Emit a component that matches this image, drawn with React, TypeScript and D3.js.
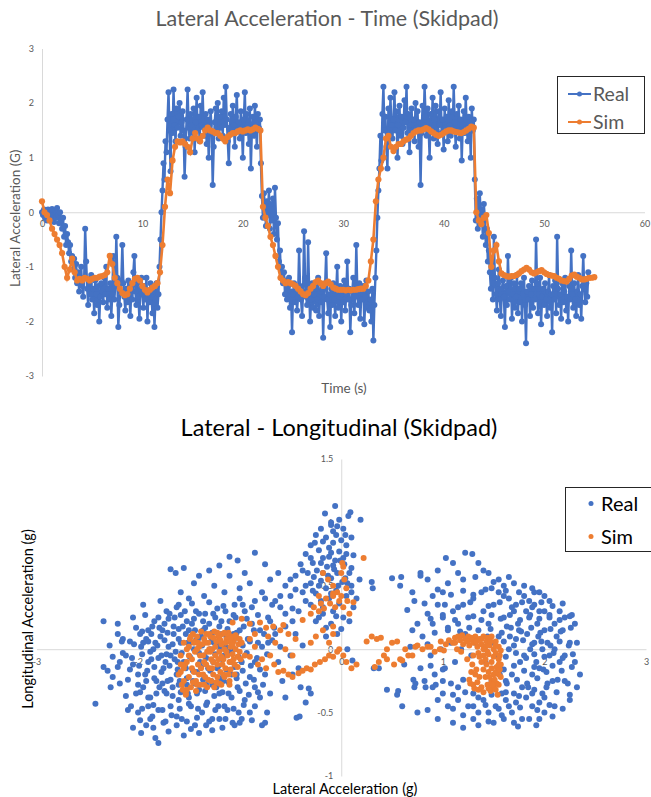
import { useEffect, useRef } from 'react'
import * as d3 from 'd3'

// ---- Lateral acceleration vs time (logged at 10 Hz) ----
const realStep = 0.1 // s between logged samples
const realLat = [
  // 0-4 s : straight, turn-in
  0.0, -0.05, 0.05, -0.1, 0.02, -0.15, 0.05, -0.08, 0.0, -0.12,
  0.06, -0.05, -0.18, 0.03, -0.1, 0.08, -0.05, -0.2, 0.0, -0.15,
  -0.3, -0.1, -0.45, -0.25, -0.6, -0.4, -0.55, -0.75, -0.6, -0.9,
  -0.8, -1.05, -0.85, -1.2, -0.95, -1.3, -1.1, -1.45, -1.2, -1.0,
  // 4-12 s : first left circle
  -1.35, -1.55, -1.2, -0.3, -0.9, -1.4, -1.7, -1.3, -1.5, -1.15,
  -1.6, -1.4, -1.85, -1.25, -1.5, -1.7, -1.35, -2.0, -1.55, -1.3,
  -1.45, -1.65, -1.2, -1.5, -1.0, -1.75, -1.4, -1.6, -1.3, -1.9,
  -1.5, -0.8, -1.6, -1.35, -0.45, -1.2, -2.1, -1.7, -1.45, -1.25,
  -0.6, -1.3, -1.55, -1.8, -1.4, -1.65, -1.25, -1.5, -1.9, -1.35,
  -1.6, -1.1, -0.8, -1.45, -1.7, -1.3, -1.55, -1.95, -1.4, -1.2,
  -1.5, -1.75, -1.35, -1.6, -1.2, -2.0, -1.45, -1.65, -1.3, -1.55,
  -1.85, -1.4, -2.1, -1.6, -1.3, -1.75, -1.5, -1.0, -0.5, 0.0,
  // 12-22 s : first right circle
  0.4, 0.9, 0.6, 1.3, 1.1, 1.7, 2.2, 1.5, 0.75, 1.8,
  1.45, 2.25, 1.6, 1.3, 1.9, 1.55, 1.75, 2.0, 1.4, 1.65,
  1.85, 1.5, 0.65, 1.2, 1.7, 2.25, 1.55, 1.35, 1.8, 1.6,
  1.45, 1.9, 1.1, 1.65, 2.1, 1.5, 1.75, 1.3, 1.95, 1.6,
  2.2, 1.55, 1.4, 1.8, 1.25, 1.7, 1.0, 1.6, 1.85, 1.45,
  0.5, 1.2, 1.65, 1.9, 1.5, 2.0, 1.35, 1.75, 1.55, 1.85,
  1.4, 2.1, 1.6, 2.3, 1.7, 1.3, 0.9, 1.55, 1.8, 1.45,
  1.95, 1.6, 1.2, 1.75, 2.15, 1.5, 1.65, 1.35, 1.85, 1.55,
  1.0, 1.7, 2.2, 1.45, 1.8, 1.6, 1.25, 1.9, 0.8, 1.5,
  1.75, 1.4, 1.95, 1.6, 1.2, 1.8, 1.55, 1.7, 0.9, 0.3,
  // 22-24 s : crossover
  -0.1, 0.35, 0.1, -0.25, 0.2, -0.05, 0.4, -0.3, 0.15, -0.15,
  0.25, -0.4, 0.45, -0.1, -0.5, -0.2, -0.9, -0.7, -1.2, -1.0,
  // 24-33 s : second left circle
  -1.3, -1.1, -1.5, -1.25, -1.6, -1.35, -1.2, -1.75, -1.45, -2.2,
  -1.5, -1.3, -1.65, -1.4, -1.8, -1.55, -0.7, -1.35, -1.6, -1.9,
  -1.45, -0.35, -1.2, -1.55, -1.7, -0.55, -1.4, -2.0, -1.6, -1.3,
  -1.75, -1.5, -1.35, -1.8, -1.6, -1.2, -1.9, -1.45, -1.65, -1.4,
  -2.3, -1.55, -1.3, -0.75, -1.6, -1.85, -1.5, -2.1, -1.4, -1.7,
  -1.3, -1.6, -1.9, -1.45, -1.0, -1.75, -1.55, -1.35, -2.0, -1.5,
  -1.65, -1.25, -1.8, -1.5, -0.9, -1.6, -1.4, -2.2, -1.7, -1.45,
  -1.2, -1.85, -1.55, -0.6, -1.4, -1.7, -1.3, -1.95, -1.5, -1.6,
  -1.35, -2.05, -1.55, -1.25, -1.75, -1.45, -1.8, -1.6, -2.0, -1.4,
  -2.35, -1.7, -1.2, -0.7, -0.1, 0.4, 0.8, 1.4, 0.95, 1.8,
  // 34-43 s : second right circle
  2.3, 1.5, 1.75, 1.2, 0.8, 1.9, 1.45, 2.1, 1.6, 1.35,
  1.7, 2.2, 1.5, 1.85, 1.0, 1.6, 1.95, 1.4, 1.75, 1.25,
  1.55, 2.05, 1.65, 2.3, 1.45, 1.8, 1.1, 1.6, 1.9, 1.5,
  1.7, 1.3, 2.0, 1.55, 1.85, 1.2, 1.65, 0.5, 1.45, 1.95,
  1.6, 2.3, 1.75, 1.4, 1.9, 1.55, 1.0, 1.8, 1.5, 2.1,
  1.35, 1.7, 1.95, 1.5, 1.25, 1.85, 1.6, 2.2, 1.45, 1.7,
  1.15, 1.9, 1.55, 1.75, 1.3, 2.05, 1.6, 1.4, 1.85, 1.5,
  2.3, 1.65, 1.2, 1.8, 1.5, 1.95, 1.35, 1.7, 0.95, 1.6,
  1.85, 1.45, 2.1, 1.55, 1.3, 1.75, 1.6, 1.0, 1.9, 1.5,
  // 43-45 s : exit
  1.7, 0.6, -0.15, 0.25, -0.3, 0.1, 0.35, -0.2, 0.05, -0.45,
  0.15, -0.1, -0.6, -0.3, -0.9, -0.7, -1.1, -1.4, -0.9, -1.6,
  // 45-54.5 s : run-off
  -0.45, -1.2, -1.5, -1.8, -1.3, -1.05, -1.6, -1.9, -1.4, -1.25,
  -1.55, -2.1, -1.35, -1.7, -0.8, -1.45, -1.6, -1.2, -1.95, -1.5,
  -1.3, -1.75, -1.55, -1.15, -1.85, -1.4, -1.65, -1.3, -2.0, -1.5,
  -1.2, -1.7, -2.4, -1.45, -1.6, -1.35, -1.9, -1.5, -1.25, -1.75,
  -1.4, -1.6, -0.5, -1.3, -1.85, -1.5, -1.2, -2.05, -1.55, -1.4,
  -1.7, -1.3, -1.6, -1.9, -1.45, -1.15, -1.75, -1.5, -2.2, -1.35,
  -1.6, -1.25, -1.85, -0.45, -1.4, -1.7, -1.5, -1.95, -1.3, -1.65,
  -1.45, -1.2, -1.8, -1.55, -2.0, -1.35, -1.6, -0.7, -1.5, -1.75,
  -1.3, -1.6, -1.9, -1.45, -1.15, -1.7, -1.5, -1.95, -1.35, -0.8,
  -1.4, -1.65, -1.3, -1.55, -1.1,
]

const simStep = 0.25
const simLat = [
  0.2, 0.0, -0.05, -0.15, -0.3, -0.4, -0.5, -0.6, -0.75, -1.0, -1.2, -1.05, -0.85, -1.1, -1.25, -1.22, -1.25, -1.2, -1.22, -1.25,
  -1.22, -1.2, -1.2, -1.18, -1.17, -1.15, -1.1, -0.8, -0.95, -1.2, -1.3, -1.4, -1.48, -1.52, -1.5, -1.4, -1.3, -1.22, -1.2, -1.25,
  -1.35, -1.42, -1.47, -1.42, -1.38, -1.35, -1.3, -1.1, -0.6, 0.1, 0.6, 0.35, 0.95, 1.2, 1.3, 1.28, 1.3, 1.25, 1.2, 1.1,
  1.35, 1.45, 1.35, 1.3, 1.4, 1.5, 1.55, 1.5, 1.48, 1.45, 1.45, 1.4, 1.35, 1.3, 1.38, 1.42, 1.45, 1.45, 1.48, 1.5,
  1.48, 1.5, 1.52, 1.5, 1.52, 1.55, 1.53, 1.5, 0.1, -0.1, -0.25, -0.45, -0.6, -0.8, -1.0, -1.2, -1.25, -1.3, -1.28, -1.3,
  -1.32, -1.35, -1.4, -1.45, -1.5, -1.52, -1.48, -1.4, -1.35, -1.28, -1.25, -1.3, -1.35, -1.3, -1.27, -1.32, -1.38, -1.4, -1.42, -1.42,
  -1.42, -1.43, -1.42, -1.43, -1.42, -1.42, -1.41, -1.4, -1.4, -1.35, -1.25, -0.9, -0.5, 0.2, 0.6, 0.8, 1.0, 1.35, 1.4, 1.2,
  1.12, 1.2, 1.25, 1.25, 1.3, 1.33, 1.35, 1.4, 1.45, 1.48, 1.5, 1.5, 1.52, 1.54, 1.52, 1.48, 1.45, 1.42, 1.4, 1.42,
  1.45, 1.48, 1.5, 1.5, 1.48, 1.47, 1.46, 1.45, 1.47, 1.5, 1.53, 1.57, 1.55, 0.0, -0.15, -0.22, -0.1, -0.05, -0.38, -1.0,
  -0.7, -0.6, -0.9, -1.12, -1.15, -1.17, -1.18, -1.17, -1.17, -1.15, -1.12, -1.08, -1.05, -1.02, -1.05, -1.1, -1.12, -1.1, -1.08, -1.06,
  -1.1, -1.13, -1.15, -1.16, -1.17, -1.2, -1.22, -1.25, -1.26, -1.27, -1.22, -1.16, -1.14, -1.18, -1.2, -1.23, -1.23, -1.22, -1.2, -1.2,
  -1.19,
]

const timeTicks = [0, 10, 20, 30, 40, 50, 60]
const latTicksTop = [-3, -2, -1, 0, 1, 2, 3]

// ---- Lateral vs longitudinal (g): [lateral, longitudinal] ----
const realScatter: [number, number][] = [
  // left-hand circle
  [-2.42, -0.43], [-2.34, 0.22], [-2.34, -0.14], [-2.2, 0.2], [-2.15, 0.08], [-2.27, -0.3], [-2.25, -0.22], [-2.18, -0.1],
  [-2.1, -0.48], [-2.05, -0.62], [-1.97, -0.66], [-1.83, -0.7], [-1.8, -0.74], [-2.08, 0.06], [-2.12, -0.05], [-1.95, 0.05],
  [-2.0, -0.2], [-2.02, -0.35], [-1.9, -0.45], [-1.88, -0.55],
  [-1.68, 0.63], [-1.63, 0.6], [-1.55, 0.64], [-1.45, 0.52], [-1.4, 0.58], [-1.3, 0.62], [-1.2, 0.66], [-1.1, 0.73],
  [-1.02, 0.7], [-0.85, 0.76], [-0.95, 0.6], [-0.9, 0.52], [-0.75, 0.67], [-0.7, 0.55], [-0.62, 0.6], [-0.55, 0.5],
  [-0.5, 0.55], [-0.45, 0.47], [-0.6, 0.42], [-0.78, 0.45], [-0.85, 0.38], [-1.0, 0.48], [-1.15, 0.45], [-1.25, 0.5],
  [-1.35, 0.42], [-1.5, 0.4], [-1.6, 0.35], [-1.72, 0.3], [-1.8, 0.25], [-1.58, 0.45], [-1.1, 0.58], [-0.68, 0.35],
  [-0.55, 0.28], [-0.48, 0.32], [-0.72, 0.25], [-0.95, 0.3], [-1.05, 0.35], [-1.22, 0.32], [-1.4, 0.28], [-1.52, 0.22],
  [-1.65, 0.18], [-1.9, 0.15],
  [-1.9, -0.1], [-1.85, 0.0], [-1.82, -0.25], [-1.78, 0.1], [-1.75, -0.15], [-1.72, -0.35], [-1.7, 0.02], [-1.68, -0.05],
  [-1.65, 0.12], [-1.62, -0.2], [-1.6, -0.4], [-1.58, 0.05], [-1.55, -0.1], [-1.52, -0.28], [-1.5, 0.15], [-1.48, -0.45],
  [-1.45, 0.0], [-1.42, -0.18], [-1.4, -0.32], [-1.38, 0.1], [-1.35, -0.05], [-1.32, -0.42], [-1.3, 0.2], [-1.28, -0.25],
  [-1.25, 0.05], [-1.22, -0.15], [-1.2, -0.35], [-1.18, 0.12], [-1.15, -0.05], [-1.12, -0.48], [-1.1, 0.22], [-1.08, -0.2],
  [-1.05, 0.0], [-1.02, -0.3], [-1.0, 0.15], [-0.98, -0.1], [-0.95, -0.4], [-0.92, 0.08], [-0.9, -0.22], [-0.88, 0.2],
  [-1.95, -0.3], [-1.92, 0.08], [-1.88, -0.38], [-1.86, 0.18], [-1.8, -0.48], [-1.77, -0.05], [-1.74, 0.2], [-1.71, -0.25],
  [-1.67, -0.52], [-1.64, 0.25], [-1.61, -0.1], [-1.57, -0.55], [-1.54, 0.3], [-1.51, -0.35], [-1.47, 0.2], [-1.44, -0.6],
  [-1.41, 0.08], [-1.37, -0.5], [-1.34, 0.28], [-1.31, -0.15], [-1.27, -0.55], [-1.24, 0.25], [-1.21, -0.45], [-1.17, -0.62],
  [-1.14, 0.3], [-1.11, -0.35], [-1.07, -0.58], [-1.04, 0.25], [-1.01, -0.5], [-0.97, 0.35],
  [-2.05, -0.12], [-1.98, 0.12], [-1.93, -0.2], [-1.87, -0.08], [-1.83, 0.05], [-1.79, -0.3], [-1.76, 0.15], [-1.73, -0.1],
  [-1.69, 0.28], [-1.66, -0.3], [-1.63, -0.02], [-1.59, -0.25], [-1.56, 0.18], [-1.53, -0.15], [-1.49, 0.05], [-1.46, -0.25],
  [-1.43, 0.3], [-1.39, -0.1], [-1.36, 0.15], [-1.33, -0.28], [-1.29, 0.0], [-1.26, -0.1], [-1.23, -0.3], [-1.19, 0.0],
  [-1.16, -0.25], [-1.13, 0.1], [-1.09, -0.1], [-1.06, 0.12], [-1.03, -0.2], [-0.99, 0.05],
  [-2.0, -0.5], [-1.92, -0.6], [-1.85, -0.62], [-1.75, -0.58], [-1.7, -0.65], [-1.62, -0.6], [-1.55, -0.68], [-1.48, -0.63],
  [-1.4, -0.66], [-1.33, -0.6], [-1.27, -0.64], [-1.2, -0.55], [-1.05, -0.6], [-0.98, -0.55], [-0.9, -0.5], [-0.85, -0.45],
  [-0.8, -0.38], [-0.78, -0.6], [-0.75, -0.58], [-0.73, -0.5], [-0.85, -0.3],
  [-0.85, -0.1], [-0.82, 0.05], [-0.8, 0.15], [-0.75, -0.2], [-0.72, 0.05], [-0.7, -0.35], [-0.65, 0.12], [-0.62, -0.1],
  [-0.6, 0.02], [-0.58, -0.25], [-0.55, 0.18], [-0.5, -0.05], [-0.48, -0.2], [-0.45, 0.12], [-0.42, -0.15], [-0.4, -0.3],
  [-0.38, 0.03], [-0.35, -0.42], [-0.3, -0.35], [-0.65, 0.38], [-0.41, -0.53], [-0.55, -0.38], [-0.32, -0.31], [-0.44, -0.54],
  [-1.95, 0.35], [-1.78, 0.38], [-1.62, 0.33], [-1.47, 0.36], [-1.3, 0.37], [-1.16, 0.34], [-1.0, 0.4], [-0.88, 0.33],
  [-0.75, 0.4], [-0.6, 0.33],
  [-2.05, 0.25], [-1.93, 0.27], [-1.84, 0.22], [-1.7, 0.24], [-1.58, 0.27], [-1.45, 0.24], [-1.36, 0.22], [-1.26, 0.28],
  [-1.18, 0.22], [-1.06, 0.27], [-0.93, 0.24], [-0.82, 0.27], [-0.7, 0.22],
  [-2.2, 0.12], [-2.02, 0.17], [-1.96, 0.14], [-1.87, 0.12], [-1.79, 0.17], [-1.71, 0.13], [-1.6, 0.16], [-1.53, 0.12],
  [-1.44, 0.15], [-1.34, 0.17], [-1.27, 0.13], [-1.2, 0.18], [-1.12, 0.16], [-1.03, 0.13], [-0.96, 0.18], [-0.86, 0.15],
  [-0.76, 0.12], [-0.66, 0.17],
  [-2.28, 0.03], [-2.16, 0.06], [-2.04, 0.04], [-1.97, 0.02], [-1.9, 0.06], [-1.81, 0.03], [-1.74, 0.07], [-1.66, 0.04],
  [-1.6, 0.08], [-1.51, 0.05], [-1.43, 0.07], [-1.37, 0.03], [-1.28, 0.06], [-1.21, 0.04], [-1.14, 0.02], [-1.06, 0.07],
  [-0.97, 0.03], [-0.9, 0.06], [-0.78, 0.02], [-0.68, 0.07],
  [-2.25, -0.06], [-2.15, -0.03], [-2.06, -0.07], [-1.96, -0.04], [-1.88, -0.02], [-1.8, -0.07], [-1.72, -0.04], [-1.64, -0.08],
  [-1.57, -0.03], [-1.49, -0.06], [-1.4, -0.03], [-1.33, -0.07], [-1.24, -0.04], [-1.17, -0.08], [-1.1, -0.02], [-1.01, -0.06],
  [-0.93, -0.03], [-0.83, -0.07], [-0.73, -0.04],
  [-2.3, -0.17], [-2.2, -0.14], [-2.08, -0.16], [-1.99, -0.13], [-1.91, -0.17], [-1.84, -0.14], [-1.77, -0.18], [-1.69, -0.13],
  [-1.61, -0.16], [-1.54, -0.13], [-1.46, -0.17], [-1.38, -0.14], [-1.29, -0.17], [-1.21, -0.13], [-1.13, -0.16], [-1.05, -0.14],
  [-0.97, -0.17], [-0.89, -0.13], [-0.8, -0.16],
  [-2.18, -0.27], [-2.1, -0.24], [-2.0, -0.28], [-1.92, -0.25], [-1.84, -0.23], [-1.76, -0.27], [-1.68, -0.24], [-1.6, -0.28],
  [-1.52, -0.23], [-1.44, -0.27], [-1.36, -0.24], [-1.27, -0.28], [-1.19, -0.23], [-1.11, -0.26], [-1.03, -0.23], [-0.94, -0.27],
  [-0.86, -0.24], [-0.77, -0.28],
  [-2.12, -0.37], [-1.98, -0.34], [-1.9, -0.38], [-1.82, -0.35], [-1.74, -0.33], [-1.66, -0.37], [-1.58, -0.34], [-1.5, -0.38],
  [-1.42, -0.35], [-1.34, -0.33], [-1.25, -0.37], [-1.17, -0.34], [-1.08, -0.38], [-1.0, -0.33], [-0.91, -0.36], [-0.82, -0.34],
  [-2.07, -0.45], [-1.96, -0.47], [-1.85, -0.44], [-1.76, -0.48], [-1.68, -0.45], [-1.59, -0.47], [-1.5, -0.43], [-1.41, -0.47],
  [-1.33, -0.44], [-1.24, -0.48], [-1.15, -0.45], [-1.06, -0.47], [-0.96, -0.44],
  [-1.98, -0.56], [-1.86, -0.53], [-1.73, -0.57], [-1.62, -0.53], [-1.52, -0.57], [-1.42, -0.54], [-1.3, -0.57], [-1.14, -0.55],
  [-1.0, -0.58], [-0.88, -0.56],
  // braking / accel on the straights
  [-0.06, 1.13], [-0.16, 1.07], [0.09, 1.08], [0.19, 1.02], [0.07, 1.05], [-0.02, 1.02], [-0.1, 0.98], [-0.2, 0.95],
  [0.02, 0.95], [-0.05, 0.9], [-0.15, 0.88], [-0.25, 0.9], [0.1, 0.88], [-0.08, 0.84], [-0.3, 0.82], [0.05, 0.82],
  [-0.12, 0.8], [-0.22, 0.78], [-0.02, 0.77], [-0.35, 0.75], [0.12, 0.74], [-0.18, 0.72], [-0.06, 0.7], [-0.28, 0.68],
  [0.03, 0.67], [-0.4, 0.67], [-0.14, 0.65], [-0.24, 0.62], [0.08, 0.6], [-0.04, 0.6], [-0.33, 0.6], [-0.45, 0.58],
  [-0.1, 0.56], [-0.2, 0.54], [0.01, 0.53], [-0.3, 0.52], [0.1, 0.5], [-0.15, 0.48], [-0.05, 0.46], [-0.25, 0.44],
  [-0.38, 0.45], [0.05, 0.42], [-0.12, 0.4], [-0.2, 0.38], [-0.02, 0.36], [-0.3, 0.35], [0.12, 0.33], [-0.08, 0.3],
  [-0.18, 0.28], [0.02, 0.25], [-0.25, 0.22], [-0.1, 0.2], [0.0, 0.16], [-0.04, 0.12], [-0.15, 0.1], [-0.35, 0.38],
  [-0.42, 0.3], [-0.5, 0.42], [-0.48, 0.22], [-0.08, 0.93], [0.0, 0.86], [-0.12, 0.73], [-0.01, 0.7], [0.05, 0.75],
  [-0.07, 0.63], [-0.18, 0.6], [0.04, 0.56], [-0.22, 0.5], [0.15, 0.4], [0.18, 0.55], [0.11, -0.09], [0.06, 0.0],
  [-0.1, 1.0], [-0.04, 0.97], [0.04, 0.9], [-0.18, 0.85], [-0.26, 0.84], [-0.1, 0.76], [0.02, 0.72], [-0.3, 0.72],
  [-0.2, 0.68], [-0.08, 0.66], [0.1, 0.64], [-0.38, 0.62], [-0.27, 0.57], [-0.13, 0.58], [0.06, 0.52], [-0.03, 0.5],
  [-0.35, 0.5], [-0.28, 0.46], [-0.1, 0.44], [0.1, 0.45], [-0.18, 0.33], [-0.05, 0.26], [0.08, 0.22], [-0.15, 0.17],
  [-0.22, 0.25],
  // right-hand circle
  [1.29, 0.75], [1.03, 0.72], [1.22, 0.76], [1.1, 0.68], [1.35, 0.68], [0.95, 0.62], [1.15, 0.6], [0.78, 0.6],
  [0.85, 0.55], [1.45, 0.6], [1.55, 0.55], [1.7, 0.52], [1.8, 0.5], [1.88, 0.48], [1.95, 0.45], [1.6, 0.42],
  [0.65, 0.31], [0.7, 0.45], [0.72, 0.38], [0.9, 0.42], [1.0, 0.45], [2.05, 0.38], [2.15, 0.3], [2.27, 0.27],
  [2.2, 0.25], [2.1, 0.2], [2.3, 0.2], [0.45, -0.32], [0.55, -0.36], [0.6, -0.45], [0.75, -0.5], [0.85, -0.48],
  [0.95, -0.55], [1.1, -0.58], [1.2, -0.62], [1.35, -0.6], [1.5, -0.58], [1.74, -0.61], [1.92, -0.6], [1.85, -0.55],
  [2.0, -0.5], [2.1, -0.45], [2.25, -0.4], [2.32, -0.3], [2.3, -0.1], [2.25, 0.05], [2.35, -0.2], [2.2, -0.25],
  [1.4, 0.3], [1.45, 0.2], [1.5, 0.35], [1.55, 0.1], [1.6, 0.25], [1.65, 0.0], [1.7, 0.3], [1.75, 0.15],
  [1.8, -0.05], [1.85, 0.25], [1.9, 0.05], [1.95, -0.15], [2.0, 0.15], [2.05, -0.05], [1.42, -0.1], [1.48, -0.25],
  [1.53, -0.05], [1.58, -0.35], [1.63, 0.18], [1.68, -0.2], [1.72, 0.08], [1.78, -0.3], [1.83, 0.12], [1.88, -0.2],
  [1.93, 0.2], [1.98, -0.35], [2.03, 0.05], [2.08, -0.25], [2.12, 0.1], [2.15, -0.1],
  [1.3, 0.4], [1.35, 0.15], [1.38, 0.45], [1.25, 0.25], [1.2, 0.35], [1.15, 0.2], [1.1, 0.3], [1.05, 0.15],
  [1.0, 0.25], [0.95, 0.35], [0.9, 0.2], [0.85, 0.28], [0.8, 0.1], [0.75, 0.2], [0.7, 0.15], [1.32, 0.05],
  [1.28, -0.05], [1.22, 0.12], [1.18, 0.0], [1.12, -0.1], [1.08, 0.05], [1.02, -0.15], [0.98, 0.0], [0.92, -0.2],
  [0.88, -0.05], [0.82, -0.25], [0.78, -0.15], [0.72, -0.3],
  [1.4, -0.4], [1.45, -0.5], [1.52, -0.45], [1.58, -0.52], [1.62, -0.4], [1.68, -0.5], [1.72, -0.42], [1.78, -0.55],
  [1.82, -0.38], [1.88, -0.45], [1.95, -0.42], [2.02, -0.3], [1.3, -0.35], [1.25, -0.45], [1.15, -0.4], [1.05, -0.45],
  [1.0, -0.35], [0.95, -0.4], [1.35, -0.5], [1.2, -0.52],
  [1.55, 0.45], [1.65, 0.4], [1.75, 0.45], [1.85, 0.38], [1.95, 0.3], [1.48, 0.48], [1.6, 0.5], [1.72, 0.35],
  [1.82, 0.3], [1.9, 0.35], [2.0, 0.3], [2.1, 0.0], [2.18, 0.15], [2.2, -0.05], [2.05, 0.25], [1.98, 0.0],
  [1.92, -0.1], [1.86, 0.0], [1.76, -0.1], [1.7, -0.35], [1.66, 0.1], [1.56, -0.2], [1.5, 0.05], [1.44, 0.1],
  [1.62, -0.25], [1.74, 0.2], [1.84, -0.3], [1.94, 0.1], [2.02, -0.18], [1.9, -0.32],
  [0.3, 0.53], [0.31, 0.48], [0.5, 0.56], [0.59, 0.57], [0.58, 0.5], [0.78, 0.58], [0.32, -0.15], [0.37, -0.15],
  [0.56, -0.33], [0.71, -0.24], [0.73, -0.27], [0.83, -0.3], [0.93, -0.28], [0.62, -0.12], [0.68, 0.02], [0.9, -0.3],
  [1.2, 0.55], [1.32, 0.57], [1.5, 0.53], [1.65, 0.57], [1.4, 0.62], [1.05, 0.52],
  [0.95, 0.47], [1.08, 0.43], [1.2, 0.46], [1.3, 0.43], [1.42, 0.47], [1.62, 0.46], [1.8, 0.42], [1.9, 0.45], [2.0, 0.42],
  [0.82, 0.36], [1.02, 0.35], [1.15, 0.33], [1.27, 0.37], [1.45, 0.34], [1.56, 0.37], [1.68, 0.33], [1.78, 0.37],
  [1.88, 0.33], [1.97, 0.37], [2.08, 0.34], [2.18, 0.36],
  [0.88, 0.24], [1.0, 0.27], [1.12, 0.23], [1.3, 0.26], [1.38, 0.23], [1.48, 0.27], [1.57, 0.24], [1.66, 0.27],
  [1.76, 0.23], [1.86, 0.27], [1.95, 0.24], [2.05, 0.27], [2.15, 0.23], [2.25, 0.26],
  [0.92, 0.13], [1.05, 0.17], [1.17, 0.14], [1.26, 0.17], [1.47, 0.16], [1.58, 0.13], [1.67, 0.17], [1.77, 0.14],
  [1.87, 0.17], [1.96, 0.13], [2.06, 0.16], [2.16, 0.14], [2.26, 0.17],
  [0.85, 0.04], [1.6, 0.06], [1.7, 0.03], [1.79, 0.07], [1.88, 0.04], [1.97, 0.06], [2.06, 0.03], [2.15, 0.06],
  [2.24, 0.03], [2.32, 0.05],
  [1.62, -0.06], [1.72, -0.03], [1.82, -0.07], [1.9, -0.04], [2.0, -0.06], [2.09, -0.03], [2.18, -0.07], [2.28, -0.04],
  [1.6, -0.16], [1.7, -0.13], [1.8, -0.17], [1.9, -0.14], [1.99, -0.16], [2.08, -0.13], [2.17, -0.17], [2.27, -0.14],
  [1.0, -0.16], [0.88, -0.13],
  [1.08, -0.27], [1.2, -0.24], [1.63, -0.27], [1.73, -0.24], [1.83, -0.27], [1.93, -0.23], [2.03, -0.27], [2.13, -0.24],
  [2.23, -0.27], [1.15, -0.3], [1.0, -0.25],
  [1.1, -0.36], [1.22, -0.34], [1.35, -0.38], [1.48, -0.36], [1.62, -0.34], [1.75, -0.37], [1.88, -0.35], [2.0, -0.38],
  [2.12, -0.34], [2.25, -0.36],
  [1.1, -0.47], [1.3, -0.45], [1.42, -0.44], [1.55, -0.47], [1.65, -0.45], [1.76, -0.46], [1.93, -0.48], [2.05, -0.44],
  [2.18, -0.47],
  [1.3, -0.55], [1.45, -0.57], [1.6, -0.55], [1.7, -0.58], [1.95, -0.55], [2.08, -0.53],
]

const simScatter: [number, number][] = [
  // left-hand circle
  [-1.6, -0.2], [-1.58, -0.05], [-1.57, -0.28], [-1.55, 0.05], [-1.54, -0.12], [-1.53, -0.35], [-1.52, 0.0], [-1.5, -0.22],
  [-1.49, 0.08], [-1.48, -0.3], [-1.47, -0.08], [-1.46, 0.12], [-1.45, -0.18], [-1.44, -0.02], [-1.43, -0.25], [-1.42, 0.1],
  [-1.41, -0.12], [-1.4, 0.02], [-1.39, -0.28], [-1.38, 0.14], [-1.36, -0.05], [-1.35, 0.08], [-1.34, -0.22], [-1.33, 0.12],
  [-1.32, -0.02], [-1.31, 0.05], [-1.3, -0.15], [-1.29, 0.1], [-1.28, -0.08], [-1.27, 0.0], [-1.26, -0.2], [-1.25, 0.14],
  [-1.24, -0.05], [-1.23, 0.06], [-1.22, -0.12], [-1.21, 0.1], [-1.2, -0.02], [-1.19, -0.18], [-1.18, 0.04], [-1.17, 0.12],
  [-1.16, -0.08], [-1.15, 0.0], [-1.14, -0.15], [-1.13, 0.08], [-1.12, -0.05], [-1.11, 0.13], [-1.1, -0.1], [-1.09, 0.02],
  [-1.08, 0.1], [-1.07, -0.04], [-1.06, 0.06], [-1.05, -0.12], [-1.04, 0.0], [-1.03, 0.09], [-1.02, -0.06], [-1.01, 0.04],
  [-1.0, -0.02], [-0.98, 0.05],
  [-1.55, -0.15], [-1.5, -0.05], [-1.45, 0.05], [-1.43, -0.33], [-1.4, -0.2], [-1.35, -0.1], [-1.32, -0.3], [-1.28, -0.25],
  [-1.25, -0.3], [-1.22, -0.22], [-1.18, -0.28], [-1.15, -0.22], [-1.1, -0.25], [-1.05, -0.2], [-1.52, -0.32], [-1.48, 0.1],
  [-1.42, 0.0], [-1.38, -0.15], [-1.3, 0.0], [-1.26, 0.09], [-1.2, 0.1], [-1.14, 0.05], [-1.08, -0.1], [-1.34, 0.05],
  [-1.58, -0.12], [-1.56, -0.32], [-1.53, -0.36], [-1.2, -0.27], [-1.1, -0.28],
  [-1.58, -0.18], [-1.55, -0.25], [-1.52, -0.1], [-1.5, 0.02], [-1.47, -0.15], [-1.44, 0.06], [-1.42, -0.28], [-1.39, -0.05],
  [-1.37, 0.04], [-1.36, -0.2], [-1.33, -0.12], [-1.31, -0.24], [-1.29, -0.02], [-1.27, -0.15], [-1.24, 0.02], [-1.23, -0.26],
  [-1.21, -0.08], [-1.19, 0.07], [-1.17, -0.12], [-1.16, -0.2], [-1.13, -0.02], [-1.12, 0.12], [-1.1, 0.06], [-1.09, -0.16],
  [-1.07, 0.03], [-1.06, -0.08], [-1.04, 0.11], [-1.02, -0.14], [-1.0, 0.08], [-0.99, -0.08], [-1.46, -0.26], [-1.41, 0.05],
  [-1.35, -0.28], [-1.3, 0.12], [-1.22, 0.13], [-1.15, 0.13], [-1.09, 0.09], [-1.11, -0.2], [-1.18, -0.06], [-1.26, -0.1],
  // transitions
  [-0.95, -0.05], [-0.9, -0.06], [-0.85, 0.02], [-0.82, -0.12], [-0.78, -0.08], [-0.74, -0.15], [-0.7, -0.05], [-0.66, -0.12],
  [-0.62, -0.18], [-0.57, -0.17], [-0.52, -0.2], [-0.48, -0.22], [-0.42, -0.19], [-0.38, -0.17], [-0.34, -0.15], [-0.3, -0.16],
  [-0.26, -0.12], [-0.21, -0.1], [-0.16, -0.08], [-0.12, -0.05], [-0.08, -0.06], [-0.04, -0.02], [-0.02, 0.0],
  [-1.07, 0.21], [-0.98, 0.24], [-0.9, 0.2], [-0.8, 0.21], [-0.74, 0.17], [-0.67, 0.18], [-0.6, 0.15], [-0.57, 0.19],
  [-0.52, 0.12], [-0.45, 0.08], [-0.38, 0.23], [-0.3, 0.05], [-0.25, 0.1], [-0.18, 0.15], [-0.12, 0.05], [-0.08, 0.18],
  [-0.72, 0.1], [-0.85, 0.12], [-0.65, 0.05], [-0.55, 0.0], [-0.48, -0.05], [-0.9, 0.08],
  [-0.27, 0.33], [-0.22, 0.3], [-0.17, 0.32], [-0.11, 0.36], [-0.06, 0.33], [0.02, 0.33], [0.06, 0.38], [0.12, 0.37],
  [-0.18, 0.6], [-0.13, 0.55], [-0.08, 0.5], [-0.04, 0.45], [0.0, 0.42], [0.02, 0.65], [0.01, 0.68], [0.0, 0.6],
  [0.03, 0.55], [0.22, 0.72], [-0.22, 0.42], [-0.15, 0.4], [-0.3, 0.28], [0.08, 0.28], [-0.02, 0.38], [0.05, 0.48],
  [-0.08, 0.42], [-0.2, 0.36], [-0.08, 0.44], [-0.08, 0.12],
  [0.02, -0.05], [0.05, -0.1], [0.1, -0.15], [0.15, -0.12], [0.25, 0.06], [0.3, 0.1], [0.35, 0.08], [0.39, 0.09],
  [0.42, -0.05], [0.37, -0.1], [0.33, -0.14], [0.45, 0.0], [0.5, 0.05], [0.55, 0.06], [0.58, -0.08], [0.6, -0.09],
  [0.63, 0.0], [0.66, -0.05], [0.7, -0.05], [0.73, 0.02], [0.75, 0.03], [0.8, 0.0], [0.85, 0.02], [0.88, 0.02],
  [0.92, -0.02], [0.97, 0.0], [1.01, -0.01], [1.03, 0.04], [0.45, -0.08], [0.52, -0.12], [0.98, 0.06],
  // right-hand circle
  [1.06, 0.07], [1.1, 0.05], [1.12, 0.09], [1.15, 0.1], [1.19, 0.11], [1.22, 0.08], [1.25, 0.1], [1.28, 0.09],
  [1.32, 0.1], [1.36, 0.08], [1.4, 0.1], [1.44, 0.09], [1.48, 0.1], [1.52, 0.06], [1.55, 0.02], [1.57, -0.01],
  [1.2, 0.04], [1.26, 0.03], [1.3, 0.05], [1.34, 0.02], [1.38, 0.04], [1.42, 0.02], [1.46, 0.03], [1.5, 0.0],
  [1.35, -0.03], [1.4, -0.05], [1.45, -0.04], [1.5, -0.06], [1.55, -0.08], [1.38, -0.1], [1.43, -0.12], [1.48, -0.1],
  [1.53, -0.14], [1.57, -0.12], [1.4, -0.16], [1.45, -0.18], [1.5, -0.2], [1.55, -0.2], [1.42, -0.22], [1.48, -0.25],
  [1.53, -0.27], [1.57, -0.22], [1.44, -0.28], [1.5, -0.3], [1.54, -0.36], [1.47, -0.33], [1.29, -0.12], [1.26, -0.24],
  [1.3, -0.28], [1.31, -0.31], [1.35, -0.32], [1.38, -0.3], [1.4, -0.34], [1.28, -0.18], [1.24, -0.08], [1.18, -0.02],
  [1.32, -0.2], [1.36, -0.22], [1.3, -0.05], [1.14, 0.0],
  [1.12, 0.05], [1.17, 0.07], [1.24, 0.06], [1.29, 0.07], [1.33, 0.06], [1.38, 0.08], [1.43, 0.06], [1.47, 0.06],
  [1.52, 0.03], [1.4, 0.0], [1.44, -0.02], [1.52, -0.03], [1.56, -0.05], [1.48, -0.15], [1.52, -0.18], [1.56, -0.16],
  [1.46, -0.22], [1.51, -0.24], [1.55, -0.28], [1.52, -0.32], [1.45, -0.31], [1.42, -0.08], [1.34, -0.26], [1.33, -0.16],
  [1.27, -0.27], [1.36, -0.06], [1.55, -0.12], [1.49, -0.28],
]

const latTicksBottom = [-3, -2, -1, 0, 1, 2, 3]
const longTicks = [-1, -0.5, 0, 0.5, 1, 1.5]

const BLUE = '#4472C4'
const ORANGE = '#ED7D31'
const GREY = '#595959'
const AXIS = '#d9d9d9'
const FONT = 'Lato, "Noto Sans", sans-serif'

export default function App() {
  const svgRef = useRef<SVGSVGElement>(null)

  useEffect(() => {
    if (!svgRef.current) return
    const svg = d3.select(svgRef.current)
    svg.selectAll('*').remove()

    const styleAxis = (ax: d3.Selection<SVGGElement, unknown, null, undefined>, size: number) => {
      ax.select('.domain').attr('stroke', AXIS)
      ax.selectAll('text').attr('fill', GREY).attr('font-size', size).attr('font-family', FONT)
    }

    // ================= Top: lateral accel vs time =================
    const xT = d3.scaleLinear().domain([0, 60]).range([42, 644.5])
    const yT = d3.scaleLinear().domain([-3, 3]).range([376, 48.5])

    svg.append('text')
      .attr('x', 327).attr('y', 26)
      .attr('text-anchor', 'middle').attr('font-family', FONT).attr('font-size', 21.5)
      .attr('fill', GREY).text('Lateral Acceleration - Time (Skidpad)')

    svg.append('g')
      .attr('transform', `translate(${xT(0)},0)`)
      .call(d3.axisLeft(yT).tickValues(latTicksTop).tickSize(0).tickPadding(8).tickFormat(d => String(d)))
      .call(ax => styleAxis(ax, 9))

    svg.append('g')
      .attr('transform', `translate(0,${yT(0)})`)
      .call(d3.axisBottom(xT).tickValues(timeTicks).tickSize(0).tickPadding(8.5).tickFormat(d => String(d)))
      .call(ax => styleAxis(ax, 9))

    svg.append('text')
      .attr('transform', `translate(15,${(yT(3) + yT(-3)) / 2 + 6}) rotate(-90)`)
      .attr('text-anchor', 'middle').attr('dy', '0.35em')
      .attr('font-family', FONT).attr('font-size', 13.5).attr('fill', GREY)
      .text('Lateral Acceleration (G)')

    svg.append('text')
      .attr('x', 344).attr('y', 388).attr('dy', '0.35em')
      .attr('text-anchor', 'middle').attr('font-family', FONT).attr('font-size', 13.5).attr('fill', GREY)
      .text('Time (s)')

    const realPts = realLat.map((v, i) => [i * realStep, v] as [number, number])
    const simPts = simLat.map((v, i) => [i * simStep, v] as [number, number])
    const line = d3.line<[number, number]>().x(d => xT(d[0])).y(d => yT(d[1]))

    const gT = svg.append('g')
    gT.append('path').attr('d', line(realPts)).attr('fill', 'none').attr('stroke', BLUE).attr('stroke-width', 2.4)
    gT.append('g').selectAll('circle').data(realPts).join('circle')
      .attr('cx', d => xT(d[0])).attr('cy', d => yT(d[1])).attr('r', 3).attr('fill', BLUE)
    gT.append('path').attr('d', line(simPts)).attr('fill', 'none').attr('stroke', ORANGE).attr('stroke-width', 2.6)
    gT.append('g').selectAll('circle').data(simPts).join('circle')
      .attr('cx', d => xT(d[0])).attr('cy', d => yT(d[1])).attr('r', 3.1).attr('fill', ORANGE)

    // legend
    const lgT = svg.append('g')
    lgT.append('rect').attr('x', 557.5).attr('y', 76.5).attr('width', 87).attr('height', 57)
      .attr('fill', '#fff').attr('stroke', '#262626').attr('stroke-width', 1)
    ;[{ name: 'Real', color: BLUE }, { name: 'Sim', color: ORANGE }].forEach((s, i) => {
      const cy = 94 + i * 28
      lgT.append('line').attr('x1', 568).attr('x2', 591).attr('y1', cy).attr('y2', cy).attr('stroke', s.color).attr('stroke-width', 2)
      lgT.append('circle').attr('cx', 579.5).attr('cy', cy).attr('r', 2.5).attr('fill', s.color)
      lgT.append('text').attr('x', 593).attr('y', cy).attr('dy', '0.35em')
        .attr('font-family', FONT).attr('font-size', 19.5).attr('fill', GREY).text(s.name)
    })

    // ================= Bottom: lateral vs longitudinal =================
    const xB = d3.scaleLinear().domain([-3, 3]).range([36.5, 646])
    const yB = d3.scaleLinear().domain([-1, 1.5]).range([776, 459])

    svg.append('text')
      .attr('x', 339).attr('y', 428).attr('dy', '0.35em')
      .attr('text-anchor', 'middle').attr('font-family', FONT).attr('font-size', 23.5)
      .attr('fill', '#000').text('Lateral - Longitudinal (Skidpad)')

    svg.append('g')
      .attr('transform', `translate(${xB(0)},0)`)
      .call(d3.axisLeft(yB).tickValues(longTicks).tickSize(0).tickPadding(8).tickFormat(d => String(d)))
      .call(ax => styleAxis(ax, 9))

    svg.append('g')
      .attr('transform', `translate(0,${yB(0)})`)
      .call(d3.axisBottom(xB).tickValues(latTicksBottom).tickSize(0).tickPadding(9).tickFormat(d => String(d)))
      .call(ax => styleAxis(ax, 9))

    svg.append('text')
      .attr('transform', `translate(28,619) rotate(-90)`)
      .attr('text-anchor', 'middle').attr('dy', '0.35em')
      .attr('font-family', FONT).attr('font-size', 14.5).attr('fill', '#000')
      .text('Longitudinal Acceleration (g)')

    svg.append('text')
      .attr('x', 345).attr('y', 789).attr('dy', '0.35em')
      .attr('text-anchor', 'middle').attr('font-family', FONT).attr('font-size', 14.5).attr('fill', '#000')
      .text('Lateral Acceleration (g)')

    const gB = svg.append('g')
    gB.append('g').selectAll('circle').data(realScatter).join('circle')
      .attr('cx', d => xB(d[0])).attr('cy', d => yB(d[1])).attr('r', 3).attr('fill', BLUE)
    gB.append('g').selectAll('circle').data(simScatter).join('circle')
      .attr('cx', d => xB(d[0])).attr('cy', d => yB(d[1])).attr('r', 3).attr('fill', ORANGE)

    const lgB = svg.append('g')
    lgB.append('rect').attr('x', 565.5).attr('y', 487.5).attr('width', 90).attr('height', 64)
      .attr('fill', '#fff').attr('stroke', '#262626').attr('stroke-width', 1)
    ;[{ name: 'Real', color: BLUE }, { name: 'Sim', color: ORANGE }].forEach((s, i) => {
      const cy = 503.5 + i * 33
      lgB.append('circle').attr('cx', 591).attr('cy', cy).attr('r', 2.5).attr('fill', s.color)
      lgB.append('text').attr('x', 601).attr('y', cy).attr('dy', '0.35em')
        .attr('font-family', FONT).attr('font-size', 20).attr('fill', '#000').text(s.name)
    })
  }, [])

  return (
    <svg
      ref={svgRef}
      width={651}
      height={797}
      style={{ position: 'absolute', left: 0, top: 0, background: '#fff' }}
    />
  )
}
